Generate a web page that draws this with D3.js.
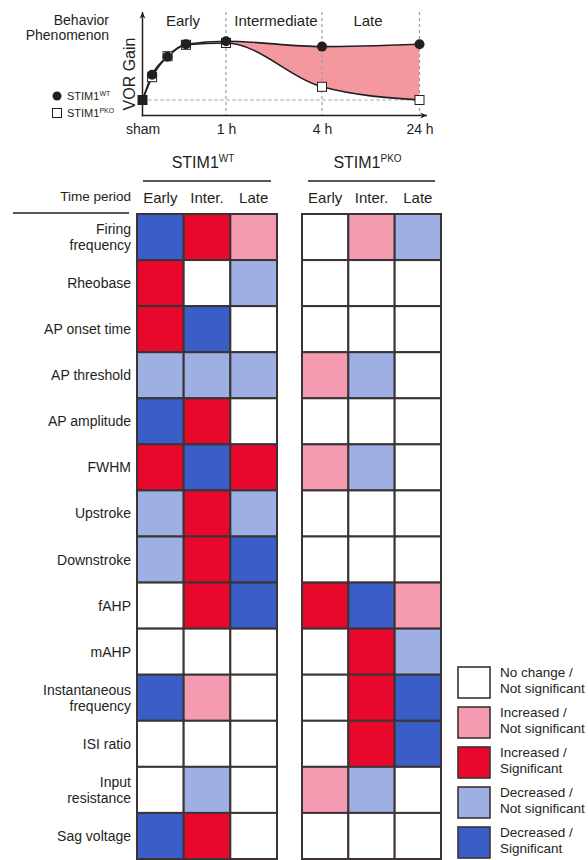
<!DOCTYPE html>
<html>
<head>
<meta charset="utf-8">
<script src="https://cdn.jsdelivr.net/npm/d3@7"></script>
<style>
  body { margin: 0; background: #fff; }
  svg { font-family: "Liberation Sans", Arial, Helvetica, sans-serif; fill: #231f20; }
  text { fill: #231f20; }
</style>
</head>
<body>
<div id="chart"></div>
<script>
(function() {

  // ---- behaviour curve (schematic, x in "period" units: sham=0, 1 h=1, 4 h=2, 24 h=3)
  let timeTicks = ["sham", "1 h", "4 h", "24 h"];
  let timePos = [0, 0.115, 0.3, 0.52, 1, 2, 3];
  let gainWT  = [0, 0.42, 0.72, 0.93, 0.98, 0.89, 0.93];
  let gainPKO = [0, 0.38, 0.73, 0.92, 0.95, 0.22, 0];
  let phases = ["Early", "Intermediate", "Late"];

  // ---- heat map
  let features = ["Firing frequency", "Rheobase", "AP onset time", "AP threshold", "AP amplitude",
                  "FWHM", "Upstroke", "Downstroke", "fAHP", "mAHP", "Instantaneous frequency",
                  "ISI ratio", "Input resistance", "Sag voltage"];
  let featureLines = [["Firing", "frequency"], ["Rheobase"], ["AP onset time"], ["AP threshold"],
                      ["AP amplitude"], ["FWHM"], ["Upstroke"], ["Downstroke"], ["fAHP"], ["mAHP"],
                      ["Instantaneous", "frequency"], ["ISI ratio"], ["Input", "resistance"], ["Sag voltage"]];
  let periods = ["Early", "Inter.", "Late"];
  // 0 no change, 1 increased n.s., 2 increased sig., -1 decreased n.s., -2 decreased sig.
  let changeWT = [
    [-2, 2, 1], [2, 0, -1], [2, -2, 0], [-1, -1, -1], [-2, 2, 0], [2, -2, 2], [-1, 2, -1],
    [-1, 2, -2], [0, 2, -2], [0, 0, 0], [-2, 1, 0], [0, 0, 0], [0, -1, 0], [-2, 2, 0]
  ];
  let changePKO = [
    [0, 1, -1], [0, 0, 0], [0, 0, 0], [1, -1, 0], [0, 0, 0], [1, -1, 0], [0, 0, 0],
    [0, 0, 0], [2, -2, 1], [0, 2, -1], [0, 2, -2], [0, 2, -2], [1, -1, 0], [0, 0, 0]
  ];
  let legendCodes = [0, 1, 2, -1, -2];
  let legendLabels = [["No change /", "Not significant"], ["Increased /", "Not significant"],
                      ["Increased /", "Significant"], ["Decreased /", "Not significant"],
                      ["Decreased /", "Significant"]];

  let color = d3.scaleOrdinal()
    .domain([0, 1, 2, -1, -2])
    .range(["#ffffff", "#f59bb1", "#e8082c", "#9dafe3", "#3a5dc7"]);

  let svg = d3.select("#chart")
    .append("svg")
      .attr("width", 588)
      .attr("height", 860);

  svg.append("defs").append("marker")
      .attr("id", "arrow")
      .attr("viewBox", "0 0 10 10")
      .attr("refX", 9).attr("refY", 5)
      .attr("markerWidth", 5).attr("markerHeight", 5)
      .attr("orient", "auto")
    .append("path")
      .attr("d", "M0,1 L9,5 L0,9 L3,5 Z")
      .attr("fill", "#231f20");

  // ================= top: VOR gain schematic =================
  let x = d3.scaleLinear().domain([0, 1, 2, 3]).range([142.5, 226, 322, 419.5]);
  let y = d3.scaleLinear().domain([0, 1]).range([100, 40]);
  let axisY = 115.5;

  let top = svg.append("g");

  top.append("clipPath").attr("id", "lateclip")
    .append("rect")
      .attr("x", x(1)).attr("y", 0)
      .attr("width", x(3) - x(1)).attr("height", axisY);

  let pts = timePos.map((t, i) => ({ t: t, wt: gainWT[i], pko: gainPKO[i] }));

  top.append("path")
      .datum(pts)
      .attr("clip-path", "url(#lateclip)")
      .attr("fill", "#f4979f")
      .attr("d", d3.area()
        .x(d => x(d.t))
        .y0(d => y(d.pko))
        .y1(d => y(d.wt))
        .curve(d3.curveMonotoneX));

  // dashed guides
  [1, 2, 3].forEach(function(t) {
    top.append("line")
      .attr("x1", x(t)).attr("x2", x(t))
      .attr("y1", 12).attr("y2", axisY)
      .attr("stroke", "#9d9d9d").attr("stroke-width", 1.2)
      .attr("stroke-dasharray", "3,3");
  });
  top.append("line")
    .attr("x1", x(0)).attr("x2", x(3))
    .attr("y1", y(0)).attr("y2", y(0))
    .attr("stroke", "#9d9d9d").attr("stroke-width", 1.2)
    .attr("stroke-dasharray", "3,3");

  // curves
  let line = key => d3.line().x(d => x(d.t)).y(d => y(d[key])).curve(d3.curveMonotoneX);
  top.append("path").datum(pts)
    .attr("fill", "none").attr("stroke", "#231f20").attr("stroke-width", 1.6)
    .attr("d", line("pko"));
  top.append("path").datum(pts)
    .attr("fill", "none").attr("stroke", "#231f20").attr("stroke-width", 1.6)
    .attr("d", line("wt"));

  // axes
  top.append("line")
    .attr("x1", x(0)).attr("x2", x(0))
    .attr("y1", axisY + 0.8).attr("y2", 12)
    .attr("stroke", "#231f20").attr("stroke-width", 1.5)
    .attr("marker-end", "url(#arrow)");
  top.append("line")
    .attr("x1", x(0) - 0.8).attr("x2", 427)
    .attr("y1", axisY).attr("y2", axisY)
    .attr("stroke", "#231f20").attr("stroke-width", 1.5)
    .attr("marker-end", "url(#arrow)");

  let xAxis = top.append("g")
    .attr("transform", "translate(0," + axisY + ")")
    .call(d3.axisBottom(x).tickValues([0, 1, 2, 3]).tickFormat(i => timeTicks[i]).tickSize(0).tickPadding(9));
  xAxis.select(".domain").remove();
  xAxis.selectAll("text")
    .attr("font-size", 14)
    .attr("font-family", "Liberation Sans, Arial, sans-serif")
    .attr("fill", "#231f20");

  // markers: squares (PKO) under circles (WT)
  top.selectAll("rect.pko")
    .data(pts)
    .enter().append("rect")
      .attr("class", "pko")
      .attr("x", d => x(d.t) - 4.5)
      .attr("y", d => y(d.pko) - 4.5)
      .attr("width", 9).attr("height", 9)
      .attr("fill", "#fff")
      .attr("stroke", "#231f20").attr("stroke-width", 1);
  top.selectAll("circle.wt")
    .data(pts.filter(d => d.t > 0))
    .enter().append("circle")
      .attr("class", "wt")
      .attr("cx", d => x(d.t))
      .attr("cy", d => y(d.wt))
      .attr("r", 5)
      .attr("fill", "#231f20");
  top.append("rect")
    .attr("x", x(0) - 4.5).attr("y", y(0) - 4.5)
    .attr("width", 9).attr("height", 9)
    .attr("fill", "#231f20");

  // phase labels
  let phaseX = [183, 276, 368];
  top.selectAll("text.phase")
    .data(phases)
    .enter().append("text")
      .attr("class", "phase")
      .attr("x", (d, i) => phaseX[i])
      .attr("y", 26)
      .attr("text-anchor", "middle")
      .attr("font-size", 15)
      .text(d => d);

  top.append("text")
    .attr("transform", "translate(135,74) rotate(-90)")
    .attr("text-anchor", "middle")
    .attr("font-size", 16)
    .text("VOR Gain");

  top.append("text").attr("x", 109).attr("y", 25).attr("text-anchor", "end")
    .attr("font-size", 14).text("Behavior");
  top.append("text").attr("x", 109).attr("y", 40).attr("text-anchor", "end")
    .attr("font-size", 14).text("Phenomenon");

  // small legend
  top.append("circle").attr("cx", 57).attr("cy", 96).attr("r", 4.5).attr("fill", "#231f20");
  top.append("rect").attr("x", 52.5).attr("y", 108.5).attr("width", 9).attr("height", 9)
    .attr("fill", "#fff").attr("stroke", "#231f20").attr("stroke-width", 1);
  [["WT", 100], ["PKO", 117]].forEach(function(d) {
    let t = top.append("text").attr("x", 67).attr("y", d[1]).attr("font-size", 11);
    t.append("tspan").text("STIM1");
    t.append("tspan").attr("font-size", 7).attr("dy", -4).text(d[0]);
  });

  // ================= heat map =================
  let rowY = d3.scaleBand().domain(features).range([214, 859]);
  let groups = [
    { name: "WT", data: changeWT, x: d3.scaleBand().domain(periods).range([137, 277]) },
    { name: "PKO", data: changePKO, x: d3.scaleBand().domain(periods).range([302, 441]) }
  ];

  groups.forEach(function(g) {
    let gx = g.x;
    let left = gx.range()[0], right = gx.range()[1];
    let mid = (left + right) / 2;

    let h = svg.append("text")
      .attr("x", mid - 4).attr("y", 168)
      .attr("text-anchor", "middle")
      .attr("font-size", 16);
    h.append("tspan").text("STIM1");
    h.append("tspan").attr("font-size", 10).attr("dy", -6).text(g.name);

    svg.append("line")
      .attr("x1", left + 6).attr("x2", right - 6)
      .attr("y1", 181).attr("y2", 181)
      .attr("stroke", "#231f20").attr("stroke-width", 1.5);

    svg.selectAll(null)
      .data(periods)
      .enter().append("text")
        .attr("x", d => gx(d) + gx.bandwidth() / 2)
        .attr("y", 203)
        .attr("text-anchor", "middle")
        .attr("font-size", 15)
        .text(d => d);

    let cells = [];
    g.data.forEach(function(row, i) {
      row.forEach(function(v, j) {
        cells.push({ feature: features[i], period: periods[j], value: v });
      });
    });

    svg.append("g")
      .selectAll("rect")
      .data(cells)
      .enter().append("rect")
        .attr("x", d => gx(d.period))
        .attr("y", d => rowY(d.feature))
        .attr("width", gx.bandwidth())
        .attr("height", rowY.bandwidth())
        .attr("fill", d => color(d.value))
        .attr("stroke", "#3a3434")
        .attr("stroke-width", 2);
  });

  svg.append("text")
    .attr("x", 131).attr("y", 201)
    .attr("text-anchor", "end")
    .attr("font-size", 13.5)
    .text("Time period");
  svg.append("line")
    .attr("x1", 13).attr("x2", 129)
    .attr("y1", 213).attr("y2", 213)
    .attr("stroke", "#231f20").attr("stroke-width", 1.5);

  // row labels
  features.forEach(function(f, i) {
    let lines = featureLines[i];
    let cy = rowY(f) + rowY.bandwidth() / 2;
    let t = svg.append("text")
      .attr("text-anchor", "end")
      .attr("font-size", 14);
    lines.forEach(function(l, k) {
      t.append("tspan")
        .attr("x", 131)
        .attr("y", cy + 5 + (k - (lines.length - 1) / 2) * 16)
        .text(l);
    });
  });

  // ================= legend =================
  let legY = d3.scalePoint().domain(legendCodes).range([667, 827]);
  let leg = svg.append("g");
  leg.selectAll("rect")
    .data(legendCodes)
    .enter().append("rect")
      .attr("x", 458)
      .attr("y", d => legY(d))
      .attr("width", 32).attr("height", 31)
      .attr("fill", d => color(d))
      .attr("stroke", "#3a3434").attr("stroke-width", 1.6);
  legendCodes.forEach(function(c, i) {
    legendLabels[i].forEach(function(l, k) {
      leg.append("text")
        .attr("x", 500)
        .attr("y", legY(c) + 10 + k * 16)
        .attr("font-size", 13.5)
        .text(l);
    });
  });

})();
</script>
</body>
</html>
